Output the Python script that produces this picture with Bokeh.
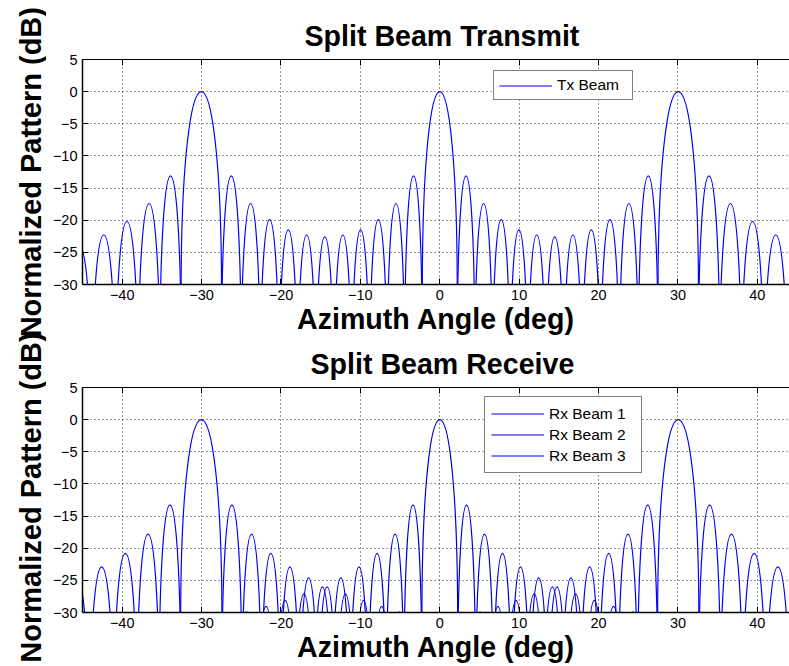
from bokeh.plotting import figure
from bokeh.layouts import row, column
from bokeh.models import ColumnDataSource, Range1d, LinearAxis, Legend, LegendItem
from bokeh.core.properties import value
from bokeh.embed import file_html
from bokeh.resources import INLINE
import math

# ---------------- data ----------------
x_ticks = [-40, -30, -20, -10, 0, 10, 20, 30, 40]
x_tick_labels = ["\u221240", "\u221230", "\u221220", "\u221210", "0", "10", "20", "30", "40"]
y_ticks = [-30, -25, -20, -15, -10, -5, 0, 5]
y_tick_labels = ["\u221230", "\u221225", "\u221220", "\u221215", "\u221210", "\u22125", "0", "5"]

# Tx beam: null angles (deg) and the peak level (dB) of each lobe between two nulls
tx_nulls = [-46.95, -43.81, -40.83, -37.98, -35.24, -32.58,
            -27.49, -25.03, -22.62, -20.25, -17.92, -15.62, -13.34, -11.09, -8.85, -6.63, -4.41, -2.20,
            2.20, 4.41, 6.63, 8.85, 11.09, 13.34, 15.62, 17.92, 20.25, 22.62, 25.03, 27.49,
            32.58, 35.24, 37.98, 40.83, 43.81, 46.95]
tx_peaks = [-24.0, -22.3, -20.2, -17.4, -13.1,
            0.0,
            -13.1, -17.4, -19.9, -21.5, -22.3, -22.6, -22.3, -21.5, -19.9, -17.4, -13.1,
            0.0,
            -13.1, -17.4, -19.9, -21.5, -22.3, -22.6, -22.3, -21.5, -19.9, -17.4, -13.1,
            0.0,
            -13.1, -17.4, -20.2, -22.3, -24.0]

# Rx beam 1 (steered to -30 deg)
rx1_nulls = [-47.34, -44.11, -41.06, -38.14, -35.34, -32.63,
             -27.44, -24.93, -22.48, -20.07, -17.69, -15.35, -13.03, -10.74, -8.46, -6.19, -3.94]
rx1_peaks = [-24.6, -22.9, -20.8, -17.8, -13.3,
             0.0,
             -13.3, -17.8, -20.8, -22.9, -24.6, -26.0, -27.1, -28.1, -29.05, -29.9]

# Rx beam 2 (steered to 0 deg)
rx2_nulls = [-25.56, -23.09, -20.67, -18.28, -15.93, -13.61, -11.31, -9.03, -6.76, -4.50, -2.25,
             2.25, 4.50, 6.76, 9.03, 11.31, 13.61, 15.93, 18.28, 20.67, 23.09, 25.56]
rx2_peaks = [-29.9, -29.05, -28.1, -27.1, -26.0, -24.6, -22.9, -20.8, -17.8, -13.3,
             0.0,
             -13.3, -17.8, -20.8, -22.9, -24.6, -26.0, -27.1, -28.1, -29.05, -29.9]

# Rx beam 3 (steered to +30 deg)
rx3_nulls = [3.94, 6.19, 8.46, 10.74, 13.03, 15.35, 17.69, 20.07, 22.48, 24.93, 27.44,
             32.63, 35.34, 38.14, 41.06, 44.11, 47.34]
rx3_peaks = [-29.9, -29.05, -28.1, -27.1, -26.0, -24.6, -22.9, -20.8, -17.8, -13.3,
             0.0,
             -13.3, -17.8, -20.8, -22.9, -24.6]

FONT = "Liberation Sans"
BIG = "28.6px"


def lobe_source(nulls, peaks):
    """Each lobe is one cubic Bezier from null to null whose top reaches the peak level."""
    x0 = nulls[:-1]
    x1 = nulls[1:]
    floor = [min(pk - 28.0, -31.0) for pk in peaks]
    ctrl = [f + (pk - f) / 0.75 for pk, f in zip(peaks, floor)]
    return ColumnDataSource(dict(x0=x0, y0=floor, x1=x1, y1=floor,
                                 cx0=x0, cy0=ctrl, cx1=x1, cy1=ctrl))


def panel(title, height, border_top, border_bottom, title_standoff, title_offset):
    p = figure(width=743, height=height,
               x_range=Range1d(-45, 44.05), y_range=Range1d(-30, 5),
               output_backend="svg", toolbar_location=None,
               min_border_left=36, min_border_right=0,
               min_border_top=border_top, min_border_bottom=border_bottom,
               title=title)
    p.outline_line_color = None
    p.background_fill_color = "white"
    p.border_fill_color = "white"
    p.title.align = "left"
    p.title.offset = title_offset
    p.title.text_font = FONT
    p.title.text_font_style = "bold"
    p.title.text_font_size = BIG
    p.title.text_color = "black"
    p.title.standoff = title_standoff

    for ax in (p.xaxis[0], p.yaxis[0]):
        ax.major_tick_in = 6
        ax.major_tick_out = 0
        ax.minor_tick_line_color = None
        ax.axis_line_width = 1.5
        ax.axis_line_color = "black"
        ax.major_tick_line_color = "black"
        ax.major_label_text_font = FONT
        ax.major_label_text_font_size = "14.5px"
        ax.major_label_text_color = "black"
    p.xaxis.ticker = x_ticks
    p.xaxis.major_label_overrides = dict(zip(x_ticks, x_tick_labels))
    p.xaxis.major_label_standoff = 5
    p.xaxis.axis_label = "Azimuth Angle (deg)"
    p.xaxis.axis_label_text_font = FONT
    p.xaxis.axis_label_text_font_style = "bold"
    p.xaxis.axis_label_text_font_size = BIG
    p.xaxis.axis_label_text_color = "black"
    p.xaxis.axis_label_standoff = 0
    p.yaxis.ticker = y_ticks
    p.yaxis.major_label_overrides = dict(zip(y_ticks, y_tick_labels))
    p.yaxis.major_label_standoff = 5

    # top border of the box with inward ticks, no labels
    top = LinearAxis(ticker=x_ticks, major_tick_in=6, major_tick_out=0,
                     minor_tick_line_color=None, axis_line_width=1.2,
                     major_label_text_color=None, major_label_text_font_size="1px",
                     major_label_standoff=0)
    p.add_layout(top, "above")

    p.grid.grid_line_color = "#303030"
    p.grid.grid_line_dash = "1 3"
    p.grid.grid_line_width = 1
    p.xgrid.ticker = x_ticks
    p.ygrid.ticker = y_ticks
    return p


def style_legend(leg, glyph_h, label_w, pad):
    leg.border_line_color = "black"
    leg.border_line_width = 1.5
    leg.padding = pad
    leg.spacing = 0
    leg.margin = 0
    leg.glyph_width = 53
    leg.glyph_height = glyph_h
    leg.label_standoff = 5
    leg.label_width = label_w
    leg.label_height = glyph_h
    leg.label_text_font = FONT
    leg.label_text_font_size = "15.5px"
    leg.label_text_color = "black"
    leg.background_fill_alpha = 1


# ---------------- transmit panel ----------------
p1 = panel("Split Beam Transmit", 338, 59, 54, 16, 222)
r_tx = p1.bezier(source=lobe_source(tx_nulls, tx_peaks), x0="x0", y0="y0", x1="x1", y1="y1",
                 cx0="cx0", cy0="cy0", cx1="cx1", cy1="cy1", line_color="#0000FF", line_width=1.2)
leg1 = Legend(items=[LegendItem(label="Tx Beam", renderers=[r_tx])], location=(411, 184))
style_legend(leg1, 17, 70, 5)
p1.add_layout(leg1, "center")

# ---------------- receive panel ----------------
p2 = panel("Split Beam Receive", 328, 49, 54, 15, 228)
rx_rends = []
for nulls, peaks, col in ((rx1_nulls, rx1_peaks, "#0000FF"),
                          (rx2_nulls, rx2_peaks, "#0000CD"),
                          (rx3_nulls, rx3_peaks, "#0000FF")):
    rx_rends.append(p2.bezier(source=lobe_source(nulls, peaks), x0="x0", y0="y0", x1="x1", y1="y1",
                              cx0="cx0", cy0="cy0", cx1="cx1", cy1="cy1",
                              line_color=col, line_width=1.2))
leg2 = Legend(items=[LegendItem(label="Rx Beam 1", renderers=[rx_rends[0]]),
                     LegendItem(label="Rx Beam 2", renderers=[rx_rends[1]]),
                     LegendItem(label="Rx Beam 3", renderers=[rx_rends[2]])],
              location=(402, 139))
style_legend(leg2, 21, 86, 6)
p2.add_layout(leg2, "center")

# ---------------- left strip with the two (overlapping) y labels ----------------
ylab = figure(width=46, height=666, x_range=Range1d(0, 46), y_range=Range1d(0, 666),
              output_backend="svg", toolbar_location=None,
              min_border=0, min_border_left=0, min_border_right=0,
              min_border_top=0, min_border_bottom=0)
ylab.axis.visible = False
ylab.grid.visible = False
ylab.outline_line_color = None
ylab.text(x=[30, 30], y=[666 - 171.7, 666 - 497.0],
          text=["Normalized Pattern (dB)", "Normalized Pattern (dB)"],
          angle=math.pi / 2, text_align="center", text_baseline="middle",
          text_font=value(FONT), text_font_style="bold", text_font_size="29px",
          text_color="black")

layout = row(ylab, column(p1, p2))
open("out.html", "w").write(file_html(layout, INLINE))
